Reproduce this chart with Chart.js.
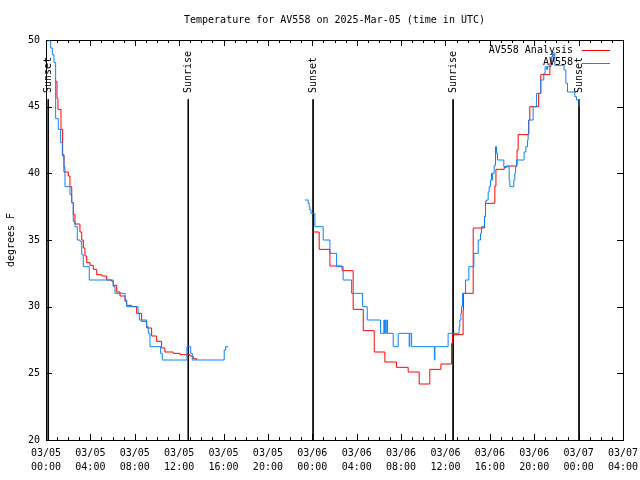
<!DOCTYPE html>
<html>
<head>
<meta charset="utf-8">
<title>Temperature for AV558</title>
<script src="https://cdn.jsdelivr.net/npm/chart.js@4/dist/chart.umd.min.js"></script>
<style>
  html, body { margin: 0; padding: 0; background: #fff; }
  canvas { display: block; }
</style>
</head>
<body>
<canvas id="my-chart" width="640" height="480"></canvas>
<script>
const chartTitle = 'Temperature for AV558 on 2025-Mar-05 (time in UTC)';
const yAxisTitle = 'degrees F';

// x values are hours since 03/05 00:00 UTC
const tickDates = ['03/05', '03/05', '03/05', '03/05', '03/05', '03/05', '03/06', '03/06', '03/06', '03/06', '03/06', '03/06', '03/07', '03/07'];
const tickTimes = ['00:00', '04:00', '08:00', '12:00', '16:00', '20:00', '00:00', '04:00', '08:00', '12:00', '16:00', '20:00', '00:00', '04:00'];

// AV558 Analysis (red)
const analysisHoursA = [0.81, 0.99, 1.08, 1.35, 1.50, 1.62, 2.01, 2.16, 2.32, 2.46, 2.61, 3.06, 3.22, 3.36, 3.51, 3.67, 3.96, 4.26, 4.57, 5.02, 5.47, 5.92, 6.06, 6.37, 6.67, 7.12, 7.27, 7.72, 8.17, 8.62, 9.07, 9.52, 9.97, 10.42, 10.72, 11.47, 12.07, 12.52, 12.97, 13.27, 13.58];
const analysisTempsA = [46.9, 45.6, 44.8, 43.3, 41.4, 40.1, 39.8, 39.0, 37.8, 36.9, 36.2, 35.6, 35.0, 34.4, 33.8, 33.3, 33.1, 32.8, 32.4, 32.3, 32.0, 31.9, 31.6, 31.1, 30.8, 30.4, 30.1, 30.0, 29.5, 28.9, 28.4, 27.8, 27.4, 26.9, 26.6, 26.5, 26.4, 26.4, 26.3, 26.1, 26.0];
const analysisHoursB = [23.99, 24.62, 25.59, 26.69, 27.68, 28.59, 29.58, 30.54, 31.59, 32.64, 33.63, 34.59, 35.59, 36.55, 36.64, 37.59, 37.62, 38.50, 39.52, 39.61, 40.45, 40.55, 41.30, 41.50, 42.45, 42.55, 43.50, 43.60, 44.40, 44.59, 45.41, 45.50, 45.70, 45.86];
const analysisTempsB = [35.6, 34.3, 33.05, 32.7, 29.8, 28.2, 26.6, 25.85, 25.45, 25.1, 24.2, 25.3, 25.7, 27.25, 27.9, 29.75, 31.0, 35.9, 36.75, 37.75, 39.05, 40.3, 40.45, 40.55, 41.75, 42.9, 44.0, 45.0, 46.0, 47.4, 48.0, 48.4, 48.9, 48.9];

// AV558 observations (blue)
const obsHoursA = [0.15, 0.30, 0.42, 0.57, 0.72, 0.87, 1.11, 1.32, 1.47, 1.62, 1.71, 2.16, 2.32, 2.46, 2.61, 2.82, 3.06, 3.22, 3.36, 3.90, 6.06, 6.22, 7.12, 7.27, 8.30, 8.41, 9.07, 9.22, 9.37, 10.33, 10.48, 12.70, 13.04, 13.18, 16.06, 16.19, 16.42];
const obsTempsA = [50.3, 49.9, 49.4, 48.9, 48.3, 44.1, 43.3, 42.3, 41.3, 40.5, 39.0, 38.4, 37.8, 36.4, 36.0, 35.0, 34.9, 33.9, 33.0, 32.0, 31.5, 31.0, 30.5, 30.0, 29.5, 29.0, 28.5, 28.0, 27.0, 26.5, 26.0, 27.0, 26.5, 26.0, 26.75, 27.0, 27.0];
const obsHoursB = [23.33, 23.63, 23.72, 23.78, 23.88, 24.23, 24.98, 25.59, 26.19, 26.78, 27.54, 28.53, 28.95, 30.15, 30.45, 30.50, 30.57, 30.62, 30.72, 30.78, 31.29, 31.74, 32.73, 32.79, 32.95, 35.00, 35.05, 36.24, 37.23, 37.30, 37.39, 37.45, 37.54, 37.81, 38.11, 38.56, 38.95, 39.16, 39.25, 39.52, 39.61, 39.70, 39.85, 39.94, 40.06, 40.15, 40.20, 40.25, 40.39, 40.51, 40.60, 40.69, 41.26, 41.74, 41.80, 42.16, 42.25, 42.32, 42.41, 43.09, 43.24, 43.40, 43.45, 43.51, 43.90, 44.21, 44.59, 44.86, 44.98, 45.10, 45.20, 45.41, 45.56, 45.65, 45.79, 45.86, 46.69, 46.85, 47.00, 47.50, 47.66, 47.81, 48.05];
const obsTempsB = [38.0, 37.75, 37.5, 37.25, 37.0, 36.0, 35.0, 34.0, 33.0, 32.0, 31.0, 30.0, 29.0, 28.0, 29.0, 28.0, 29.0, 28.0, 29.0, 28.0, 27.0, 28.0, 27.0, 28.0, 27.0, 26.0, 27.0, 28.0, 28.5, 29.0, 29.5, 30.0, 31.0, 32.0, 33.0, 34.0, 35.0, 35.5, 36.0, 36.8, 37.9, 38.0, 38.6, 39.0, 39.5, 40.0, 39.5, 40.0, 40.6, 42.0, 41.5, 41.0, 40.5, 39.5, 39.0, 39.5, 40.0, 40.5, 41.0, 41.6, 42.0, 42.5, 43.0, 44.0, 45.0, 46.0, 47.0, 47.5, 48.0, 47.8, 48.0, 48.25, 48.75, 49.05, 49.0, 48.1, 47.75, 46.75, 46.1, 46.1, 45.75, 45.5, 45.0];

const sunHours = [0.2, 12.82, 24.07, 36.69, 48.04];
const sunNames = ['Sunset', 'Sunrise', 'Sunset', 'Sunrise', 'Sunset'];
const sunLineTop = 45.55;

const monoFont = '"DejaVu Sans Mono", "Liberation Mono", monospace';

function toPoints(hours, temps) {
  return hours.map((h, i) => ({ x: h, y: temps[i] }));
}

const analysisData = toPoints(analysisHoursA, analysisTempsA)
  .concat([{ x: 20, y: null }], toPoints(analysisHoursB, analysisTempsB));
const obsData = toPoints(obsHoursA, obsTempsA)
  .concat([{ x: 20, y: null }], toPoints(obsHoursB, obsTempsB));
const sunData = sunHours.flatMap(h => [{ x: h, y: sunLineTop }, { x: h, y: 20 }, { x: h, y: null }]);

// border, inward ticks, labels drawn gnuplot style
const gnuplotDecor = {
  id: 'gnuplotDecor',
  beforeDatasetsDraw(chart) {
    const { ctx, chartArea: a, scales: { x, y } } = chart;
    ctx.save();
    ctx.strokeStyle = '#000';
    ctx.lineWidth = 1;
    ctx.strokeRect(a.left + 0.5, a.top + 0.5, a.right - a.left, a.bottom - a.top);
    ctx.beginPath();
    for (let h = x.min; h <= x.max; h++) {
      const px = Math.round(x.getPixelForValue(h)) + 0.5;
      const len = h % 4 === 0 ? 6 : 3;
      ctx.moveTo(px, a.bottom); ctx.lineTo(px, a.bottom - len);
      ctx.moveTo(px, a.top); ctx.lineTo(px, a.top + len);
    }
    y.ticks.forEach(t => {
      const py = Math.round(y.getPixelForValue(t.value)) + 0.5;
      ctx.moveTo(a.left, py); ctx.lineTo(a.left + 6, py);
      ctx.moveTo(a.right, py); ctx.lineTo(a.right - 6, py);
    });
    ctx.stroke();
    ctx.restore();
  },
  afterDatasetsDraw(chart) {
    const { ctx, chartArea: a, scales: { x } } = chart;
    ctx.save();
    ctx.fillStyle = '#000';
    ctx.font = '10px ' + monoFont;
    ctx.textBaseline = 'middle';

    ctx.textAlign = 'center';
    ctx.fillText(chartTitle, (a.left + a.right) / 2, 20);

    ctx.save();
    ctx.translate(11, (a.top + a.bottom) / 2);
    ctx.rotate(-Math.PI / 2);
    ctx.fillText(yAxisTitle, 0, 0);
    ctx.restore();

    sunHours.forEach((h, i) => {
      ctx.save();
      ctx.translate(x.getPixelForValue(h) + 0.5, 93);
      ctx.rotate(-Math.PI / 2);
      ctx.textAlign = 'left';
      ctx.fillText(sunNames[i], 0, 0);
      ctx.restore();
    });

    // key in the top right
    const ds = chart.data.datasets.filter(d => d.label);
    ds.sort((p, q) => p.keyRow - q.keyRow);
    ds.forEach((d, i) => {
      const ky = 50 + i * 12.5;
      ctx.textAlign = 'right';
      ctx.fillText(d.label, a.right - 50, ky);
      ctx.strokeStyle = d.borderColor;
      ctx.lineWidth = 1;
      ctx.beginPath();
      ctx.moveTo(a.right - 41, Math.round(ky) + 0.5);
      ctx.lineTo(a.right - 13, Math.round(ky) + 0.5);
      ctx.stroke();
    });
    ctx.restore();
  }
};

const ctx = document.getElementById('my-chart').getContext('2d');
const chart = new Chart(ctx, {
  type: 'line',
  data: {
    datasets: [
      {
        label: 'AV558',
        keyRow: 1,
        data: obsData,
        borderColor: '#0a84ff',
        borderWidth: 1,
        stepped: 'before',
        pointRadius: 0,
        spanGaps: false,
        order: 0
      },
      {
        label: 'AV558 Analysis',
        keyRow: 0,
        data: analysisData,
        borderColor: '#ff0000',
        borderWidth: 1,
        stepped: 'before',
        pointRadius: 0,
        spanGaps: false,
        order: 1
      },
      {
        data: sunData,
        borderColor: '#000000',
        borderWidth: 1,
        pointRadius: 0,
        spanGaps: false,
        order: 2
      }
    ]
  },
  options: {
    responsive: false,
    animation: false,
    layout: { padding: { top: 40, right: 17, left: 0, bottom: 0 } },
    plugins: {
      legend: { display: false },
      tooltip: { enabled: false },
      title: { display: false }
    },
    scales: {
      x: {
        type: 'linear',
        min: 0,
        max: 52,
        grid: { display: false, drawTicks: false },
        border: { display: false },
        ticks: {
          stepSize: 4,
          autoSkip: false,
          maxRotation: 0,
          padding: 6,
          color: '#000',
          font: { family: monoFont, size: 10, lineHeight: 1.45 },
          callback: (v, i) => [tickDates[i], tickTimes[i]]
        },
        afterFit: s => { s.height = 40; s.paddingLeft = 0; s.paddingRight = 0; }
      },
      y: {
        min: 20,
        max: 50,
        grid: { display: false, drawTicks: false },
        border: { display: false },
        ticks: {
          stepSize: 5,
          padding: 6,
          color: '#000',
          font: { family: monoFont, size: 10 }
        },
        afterFit: s => { s.width = 46; s.paddingTop = 0; s.paddingBottom = 0; }
      }
    }
  },
  plugins: [gnuplotDecor]
});
</script>
</body>
</html>
